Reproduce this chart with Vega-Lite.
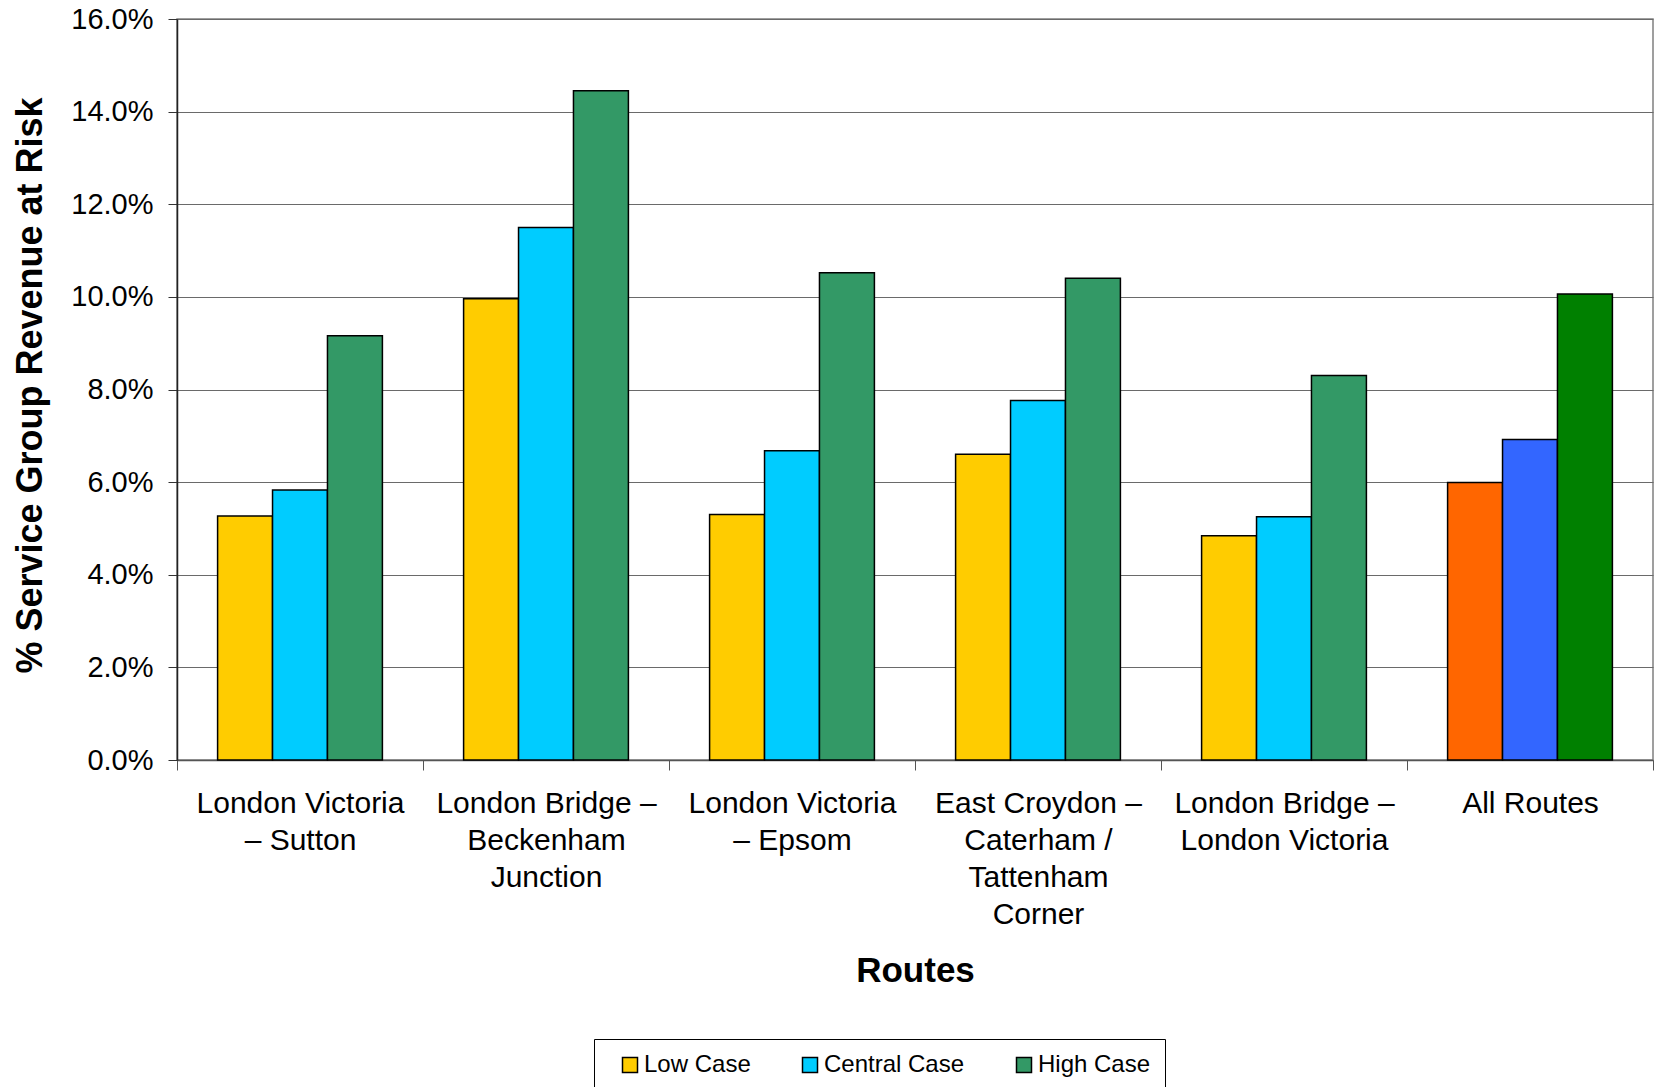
{
  "$schema": "https://vega.github.io/schema/vega-lite/v6.json",
  "autosize": {"type": "none"},
  "padding": {"left": 177, "top": 19, "right": 4, "bottom": 327},
  "width": 1476,
  "height": 741,
  "background": "white",
  "config": {
    "font": "Liberation Sans",
    "view": {"stroke": "#808080", "strokeWidth": 1.5}
  },
  "data": {
    "values": [
      {"route": "London Victoria – Sutton", "case": "Low Case", "series": "Low Case", "value": 0.0527},
      {"route": "London Victoria – Sutton", "case": "Central Case", "series": "Central Case", "value": 0.0583},
      {"route": "London Victoria – Sutton", "case": "High Case", "series": "High Case", "value": 0.0916},
      {"route": "London Bridge – Beckenham Junction", "case": "Low Case", "series": "Low Case", "value": 0.0996},
      {"route": "London Bridge – Beckenham Junction", "case": "Central Case", "series": "Central Case", "value": 0.1150},
      {"route": "London Bridge – Beckenham Junction", "case": "High Case", "series": "High Case", "value": 0.1445},
      {"route": "London Victoria – Epsom", "case": "Low Case", "series": "Low Case", "value": 0.0530},
      {"route": "London Victoria – Epsom", "case": "Central Case", "series": "Central Case", "value": 0.0668},
      {"route": "London Victoria – Epsom", "case": "High Case", "series": "High Case", "value": 0.1052},
      {"route": "East Croydon – Caterham / Tattenham Corner", "case": "Low Case", "series": "Low Case", "value": 0.0660},
      {"route": "East Croydon – Caterham / Tattenham Corner", "case": "Central Case", "series": "Central Case", "value": 0.0776},
      {"route": "East Croydon – Caterham / Tattenham Corner", "case": "High Case", "series": "High Case", "value": 0.1040},
      {"route": "London Bridge – London Victoria", "case": "Low Case", "series": "Low Case", "value": 0.0484},
      {"route": "London Bridge – London Victoria", "case": "Central Case", "series": "Central Case", "value": 0.0525},
      {"route": "London Bridge – London Victoria", "case": "High Case", "series": "High Case", "value": 0.0830},
      {"route": "All Routes", "case": "Low Case", "series": "Low Case (All Routes)", "value": 0.0599},
      {"route": "All Routes", "case": "Central Case", "series": "Central Case (All Routes)", "value": 0.0692},
      {"route": "All Routes", "case": "High Case", "series": "High Case (All Routes)", "value": 0.1006}
    ]
  },
  "mark": {"type": "bar", "stroke": "black", "strokeWidth": 1.5},
  "encoding": {
    "x": {
      "field": "route",
      "type": "nominal",
      "sort": null,
      "scale": {"paddingInner": 0, "paddingOuter": 0},
      "axis": {
        "title": "Routes",
        "titleFont": "Liberation Sans",
        "titleFontSize": 35,
        "titleFontWeight": "bold",
        "titleColor": "black",
        "titleBaseline": "middle",
        "titleY": 210,
        "labelAngle": 0,
        "labelFont": "Liberation Sans",
        "labelFontSize": 30,
        "labelColor": "black",
        "labelLineHeight": 37,
        "labelBaseline": "top",
        "labelPadding": 18,
        "labelLimit": 0,
        "labelOverlap": false,
        "labelExpr": "datum.label == 'London Victoria – Sutton' ? ['London Victoria', '– Sutton'] : datum.label == 'London Bridge – Beckenham Junction' ? ['London Bridge –', 'Beckenham', 'Junction'] : datum.label == 'London Victoria – Epsom' ? ['London Victoria', '– Epsom'] : datum.label == 'East Croydon – Caterham / Tattenham Corner' ? ['East Croydon –', 'Caterham /', 'Tattenham', 'Corner'] : datum.label == 'London Bridge – London Victoria' ? ['London Bridge –', 'London Victoria'] : datum.label",
        "tickBand": "extent",
        "tickSize": 10,
        "tickColor": "#555555",
        "domainColor": "#555555",
        "domainWidth": 1.5
      }
    },
    "xOffset": {
      "field": "case",
      "type": "nominal",
      "sort": ["Low Case", "Central Case", "High Case"],
      "scale": {"paddingInner": 0, "paddingOuter": 0.739}
    },
    "y": {
      "field": "value",
      "type": "quantitative",
      "scale": {"domain": [0, 0.16], "nice": false},
      "axis": {
        "title": "% Service Group Revenue at Risk",
        "titleFont": "Liberation Sans",
        "titleFontSize": 36,
        "titleFontWeight": "bold",
        "titleColor": "black",
        "titleAngle": -90,
        "titleAlign": "center",
        "titleBaseline": "middle",
        "titleX": -147,
        "titleY": 366,
        "format": ".1%",
        "values": [0, 0.02, 0.04, 0.06, 0.08, 0.1, 0.12, 0.14, 0.16],
        "labelFont": "Liberation Sans",
        "labelFontSize": 29,
        "labelColor": "black",
        "labelPadding": 15,
        "tickSize": 9,
        "tickColor": "#333333",
        "domainColor": "#222222",
        "domainWidth": 1.5,
        "grid": true,
        "gridColor": "#6a6a6a",
        "gridWidth": 1.2
      }
    },
    "color": {
      "field": "series",
      "type": "nominal",
      "scale": {
        "domain": ["Low Case", "Central Case", "High Case", "Low Case (All Routes)", "Central Case (All Routes)", "High Case (All Routes)"],
        "range": ["#FFCC00", "#00CCFF", "#339966", "#FF6600", "#3366FF", "#008000"]
      },
      "legend": {
        "values": ["Low Case", "Central Case", "High Case"],
        "title": null,
        "orient": "none",
        "direction": "horizontal",
        "legendX": 417,
        "legendY": 1020,
        "padding": 14,
        "symbolOffset": 10,
        "columnPadding": 37,
        "symbolType": "square",
        "symbolSize": 225,
        "symbolStrokeColor": "black",
        "symbolStrokeWidth": 1.5,
        "labelFont": "Liberation Sans",
        "labelFontSize": 24,
        "labelColor": "black",
        "labelOffset": 2,
        "strokeColor": "black",
        "fillColor": "white"
      }
    }
  }
}
